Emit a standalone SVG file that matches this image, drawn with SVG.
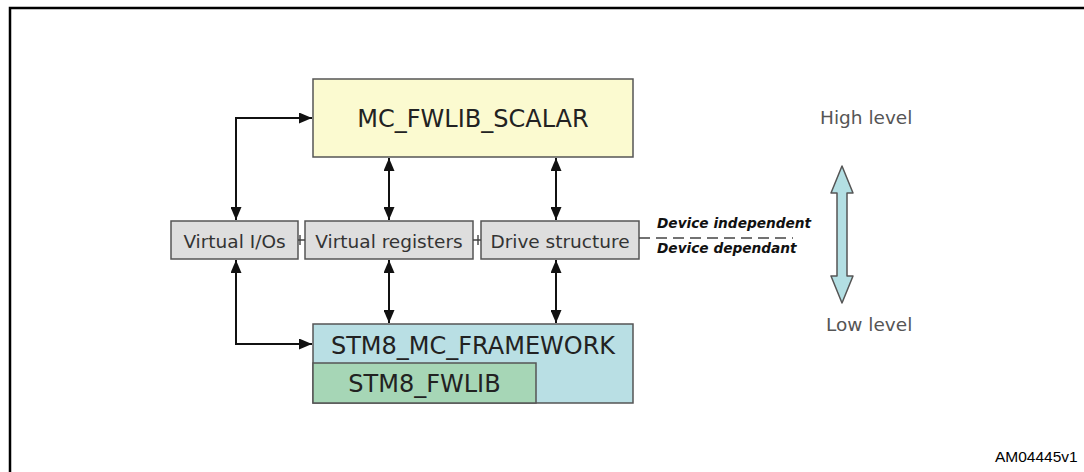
<svg xmlns="http://www.w3.org/2000/svg" width="1084" height="472" viewBox="0 0 1084 472">
<defs>
<style>
.box{stroke:#555;stroke-width:1.5}
.lbl{font-family:"DejaVu Sans",Verdana,sans-serif;fill:#222;text-anchor:middle}
.big{font-size:24px}
.mid{font-size:18.5px;fill:#333}
.con{fill:none;stroke:#111;stroke-width:2}
.dev{font-family:"DejaVu Sans",Verdana,sans-serif;font-size:13.7px;font-weight:bold;font-style:italic;fill:#111}
.lev{font-family:"DejaVu Sans",Verdana,sans-serif;font-size:18.5px;fill:#555}
</style>
<marker id="ah" viewBox="0 0 13 11" refX="13" refY="5.5" markerWidth="13" markerHeight="11" markerUnits="userSpaceOnUse" orient="auto-start-reverse">
<path d="M0,0 L13,5.5 L0,11 Z" fill="#111"/>
</marker>
</defs>
<rect width="1084" height="472" fill="#fff"/>
<path d="M10,472 V8 H1084" fill="none" stroke="#000" stroke-width="2.5"/>

<g id="mc_fwlib_scalar">
<rect class="box" x="313" y="79" width="320" height="78" fill="#fbfad0"/>
<text class="lbl big" x="473" y="127">MC_FWLIB_SCALAR</text>
</g>
<g id="virtual_ios">
<rect class="box" x="171" y="221" width="127" height="38" fill="#dedede"/>
<text class="lbl mid" x="234.5" y="248">Virtual I/Os</text>
</g>
<g id="virtual_registers">
<rect class="box" x="305" y="221" width="168" height="38" fill="#dedede"/>
<text class="lbl mid" x="389" y="248">Virtual registers</text>
</g>
<g id="drive_structure">
<rect class="box" x="481" y="221" width="158" height="38" fill="#dedede"/>
<text class="lbl mid" x="560" y="248">Drive structure</text>
</g>
<g id="stm8_mc_framework">
<rect class="box" x="313" y="324" width="320" height="79" fill="#b9dfe4"/>
<text class="lbl big" x="473" y="354">STM8_MC_FRAMEWORK</text>
</g>
<g id="stm8_fwlib">
<rect class="box" x="313" y="363" width="223" height="40" fill="#a6d6b6"/>
<text class="lbl big" x="424.5" y="392">STM8_FWLIB</text>
</g>

<g id="connectors">
<path class="con" d="M236,220 V118 H312" marker-start="url(#ah)" marker-end="url(#ah)"/>
<path class="con" d="M389,158 V220" marker-start="url(#ah)" marker-end="url(#ah)"/>
<path class="con" d="M556,158 V220" marker-start="url(#ah)" marker-end="url(#ah)"/>
<path class="con" d="M236,260 V344 H312" marker-start="url(#ah)" marker-end="url(#ah)"/>
<path class="con" d="M389,260 V323" marker-start="url(#ah)" marker-end="url(#ah)"/>
<path class="con" d="M556,260 V323" marker-start="url(#ah)" marker-end="url(#ah)"/>
<path d="M298,240 H305 M300,235 V245 M473,240 H481 M478,235 V245" fill="none" stroke="#444" stroke-width="1.4"/>
<path d="M639,238 H793" fill="none" stroke="#444" stroke-width="1.6" stroke-dasharray="11,6"/>
</g>

<g id="device_labels">
<text class="dev" x="657" y="228">Device independent</text>
<text class="dev" x="657" y="253">Device dependant</text>
</g>

<g id="level_arrow">
<path d="M842,166 L853,193 L847,193 L847,276 L853,276 L842,303 L831,276 L837,276 L837,193 L831,193 Z" fill="#b3dfe3" stroke="#555" stroke-width="1.5" stroke-linejoin="round"/>
<text class="lev" x="820" y="124">High level</text>
<text class="lev" x="826" y="331">Low level</text>
</g>

<text x="995" y="462" font-family="Liberation Sans,Arial,sans-serif" font-size="15.5" fill="#000">AM04445v1</text>
</svg>
